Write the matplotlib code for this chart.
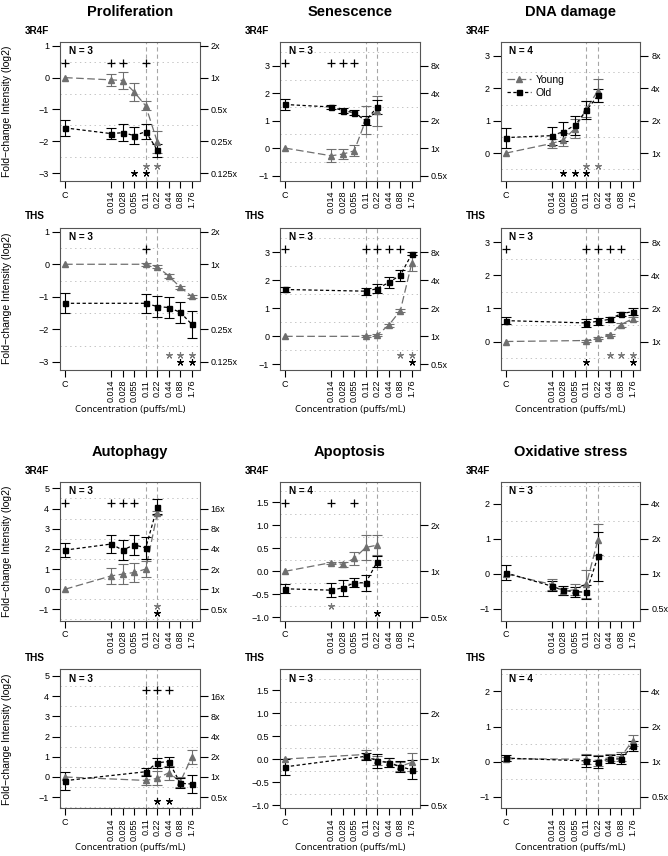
import numpy as np
import matplotlib
matplotlib.use('Agg')
import matplotlib.pyplot as plt
from matplotlib.transforms import blended_transform_factory

plt.rcParams['font.family'] = ['Liberation Sans', 'DejaVu Sans']
plt.rcParams['lines.scale_dashes'] = False

# concentrations (puffs/mL)
conc_all = ['C', '0.014', '0.028', '0.055', '0.11', '0.22', '0.44', '0.88', '1.76']
conc_3r4f = ['C', '0.014', '0.028', '0.055', '0.11', '0.22']
conc_ths = ['C', '0.11', '0.22', '0.44', '0.88', '1.76']

# ---- Proliferation ----
prolif_3r4f_young = [0, -0.07, -0.09, -0.45, -0.89, -2.02]
prolif_3r4f_young_err = [0, 0.2, 0.26, 0.28, 0.14, 0.35]
prolif_3r4f_old = [-1.58, -1.76, -1.73, -1.82, -1.70, -2.28]
prolif_3r4f_old_err = [0.24, 0.18, 0.26, 0.28, 0.23, 0.2]
prolif_3r4f_plus = ['C', '0.014', '0.028', '0.11']
prolif_3r4f_star_young = ['0.11', '0.22']
prolif_3r4f_star_old = ['0.055', '0.11']

prolif_ths_young = [0, 0, -0.08, -0.36, -0.71, -0.99]
prolif_ths_young_err = [0, 0.05, 0.05, 0.06, 0.04, 0.04]
prolif_ths_old = [-1.2, -1.2, -1.3, -1.33, -1.48, -1.85]
prolif_ths_old_err = [0.31, 0.3, 0.33, 0.33, 0.31, 0.42]
prolif_ths_plus = ['0.11']
prolif_ths_star_young = ['0.44', '0.88', '1.76']
prolif_ths_star_old = ['0.88', '1.76']

# ---- Senescence ----
senes_3r4f_young = [0, -0.28, -0.22, -0.1, 1.02, 1.35]
senes_3r4f_young_err = [0, 0.24, 0.18, 0.2, 0.5, 0.55]
senes_3r4f_old = [1.59, 1.5, 1.37, 1.29, 1.0, 1.5]
senes_3r4f_old_err = [0.2, 0.06, 0.1, 0.1, 0.17, 0.25]
senes_3r4f_plus = ['C', '0.014', '0.028', '0.055']
senes_3r4f_star_young = []
senes_3r4f_star_old = []

senes_ths_young = [0, 0, 0.05, 0.4, 0.92, 2.62]
senes_ths_young_err = [0, 0.04, 0.05, 0.05, 0.05, 0.28]
senes_ths_old = [1.67, 1.61, 1.7, 1.92, 2.18, 2.94]
senes_ths_old_err = [0.08, 0.12, 0.15, 0.2, 0.2, 0.05]
senes_ths_plus = ['C', '0.11', '0.22', '0.44', '0.88']
senes_ths_star_young = ['0.88', '1.76']
senes_ths_star_old = ['1.76']

# ---- DNA damage ----
dna_3r4f_young = [0, 0.3, 0.41, 0.76, 1.37, 1.93]
dna_3r4f_young_err = [0, 0.15, 0.2, 0.3, 0.25, 0.35]
dna_3r4f_old = [0.48, 0.54, 0.66, 0.86, 1.32, 1.78]
dna_3r4f_old_err = [0.31, 0.28, 0.3, 0.3, 0.28, 0.2]
dna_3r4f_plus = []
dna_3r4f_star_young = ['0.11', '0.22']
dna_3r4f_star_old = ['0.028', '0.055', '0.11']

dna_ths_young = [0, 0.03, 0.1, 0.2, 0.51, 0.69]
dna_ths_young_err = [0, 0.03, 0.03, 0.04, 0.06, 0.06]
dna_ths_old = [0.63, 0.56, 0.61, 0.67, 0.84, 0.9]
dna_ths_old_err = [0.1, 0.12, 0.1, 0.08, 0.06, 0.1]
dna_ths_plus = ['C', '0.11', '0.22', '0.44', '0.88']
dna_ths_star_young = ['0.44', '0.88', '1.76']
dna_ths_star_old = ['0.11', '1.76']

# ---- Autophagy ----
auto_3r4f_young = [0, 0.66, 0.75, 0.83, 1.0, 3.76]
auto_3r4f_young_err = [0, 0.4, 0.5, 0.45, 0.4, 0.1]
auto_3r4f_old = [1.94, 2.24, 1.94, 2.2, 2.05, 4.09]
auto_3r4f_old_err = [0.33, 0.45, 0.5, 0.5, 0.55, 0.38]
auto_3r4f_plus = ['C', '0.014', '0.028', '0.055']
auto_3r4f_star_young = ['0.22']
auto_3r4f_star_old = ['0.22']

auto_ths_young = [0, -0.17, -0.07, 0.21, -0.23, 1.0]
auto_ths_young_err = [0, 0.25, 0.35, 0.35, 0.25, 0.35]
auto_ths_old = [-0.18, 0.26, 0.71, 0.76, -0.31, -0.35]
auto_ths_old_err = [0.45, 0.2, 0.25, 0.25, 0.25, 0.45]
auto_ths_plus = ['0.11', '0.22', '0.44']
auto_ths_star_young = []
auto_ths_star_old = ['0.22', '0.44']

# ---- Apoptosis ----
apop_3r4f_young = [0, 0.19, 0.15, 0.28, 0.52, 0.57]
apop_3r4f_young_err = [0, 0.02, 0.05, 0.15, 0.28, 0.22]
apop_3r4f_old = [-0.38, -0.41, -0.36, -0.25, -0.25, 0.21]
apop_3r4f_old_err = [0.1, 0.15, 0.18, 0.1, 0.18, 0.12]
apop_3r4f_plus = ['C', '0.014', '0.055']
apop_3r4f_star_young = ['0.014']
apop_3r4f_star_old = ['0.22']

apop_ths_young = [0, 0.1, -0.03, -0.07, -0.16, -0.07]
apop_ths_young_err = [0, 0.1, 0.1, 0.1, 0.1, 0.2]
apop_ths_old = [-0.17, 0.06, -0.04, -0.08, -0.17, -0.23]
apop_ths_old_err = [0.18, 0.08, 0.15, 0.1, 0.12, 0.2]
apop_ths_plus = []
apop_ths_star_young = []
apop_ths_star_old = []

# ---- Oxidative stress ----
oxid_3r4f_young = [0, -0.3, -0.5, -0.45, -0.28, 0.98]
oxid_3r4f_young_err = [0, 0.15, 0.1, 0.15, 0.4, 0.45]
oxid_3r4f_old = [0.03, -0.35, -0.47, -0.51, -0.52, 0.5]
oxid_3r4f_old_err = [0.21, 0.15, 0.12, 0.15, 0.2, 0.7]
oxid_3r4f_plus = []
oxid_3r4f_star_young = []
oxid_3r4f_star_old = []

oxid_ths_young = [0.08, 0.07, 0.03, 0.12, 0.14, 0.6]
oxid_ths_young_err = [0.05, 0.15, 0.15, 0.1, 0.12, 0.15]
oxid_ths_old = [0.1, 0.02, 0.0, 0.07, 0.08, 0.45]
oxid_ths_old_err = [0.08, 0.17, 0.17, 0.12, 0.15, 0.15]
oxid_ths_plus = []
oxid_ths_star_young = []
oxid_ths_star_old = []

titles = ['Proliferation', 'Senescence', 'DNA damage', 'Autophagy', 'Apoptosis', 'Oxidative stress']
n_3r4f = [3, 3, 4, 3, 4, 3]
n_ths = [3, 3, 3, 3, 3, 4]

# x positions: C apart from the doses
xpos = {'C': 1}
for i, c in enumerate(conc_all[1:]):
    xpos[c] = 5 + i

YOUNG_COL = '#6f6f6f'
OLD_COL = 'black'
W, H = 668.0, 856.0

# axes boxes in pixels
col_left = [60.3, 280.3, 501.0]
box_w = 139.2
row_top = [41.7, 227.5, 481.7, 669.3]
row_bot = [181.0, 370.0, 620.5, 808.3]

# y range / ticks per endpoint
ylims = {'Proliferation': (-3.25, 1.13), 'Senescence': (-1.2, 3.88), 'DNA damage': (-0.86, 3.44),
         'Autophagy': (-1.55, 5.33), 'Apoptosis': (-1.07, 1.95), 'Oxidative stress': (-1.33, 2.63)}
lticks = {'Proliferation': [-3, -2, -1, 0, 1], 'Senescence': [-1, 0, 1, 2, 3], 'DNA damage': [0, 1, 2, 3],
          'Autophagy': [-1, 0, 1, 2, 3, 4, 5], 'Apoptosis': [-1.0, -0.5, 0.0, 0.5, 1.0, 1.5],
          'Oxidative stress': [-1, 0, 1, 2]}
rticks = {'Proliferation': [-3, -2, -1, 0, 1], 'Senescence': [-1, 0, 1, 2, 3], 'DNA damage': [0, 1, 2, 3],
          'Autophagy': [-1, 0, 1, 2, 3, 4], 'Apoptosis': [-1, 0, 1], 'Oxidative stress': [-1, 0, 1, 2]}

panels = [
    ('Proliferation', 0, 0, conc_3r4f, prolif_3r4f_young, prolif_3r4f_young_err, prolif_3r4f_old, prolif_3r4f_old_err,
     prolif_3r4f_plus, prolif_3r4f_star_young, prolif_3r4f_star_old, '3R4F', n_3r4f[0]),
    ('Senescence', 0, 1, conc_3r4f, senes_3r4f_young, senes_3r4f_young_err, senes_3r4f_old, senes_3r4f_old_err,
     senes_3r4f_plus, senes_3r4f_star_young, senes_3r4f_star_old, '3R4F', n_3r4f[1]),
    ('DNA damage', 0, 2, conc_3r4f, dna_3r4f_young, dna_3r4f_young_err, dna_3r4f_old, dna_3r4f_old_err,
     dna_3r4f_plus, dna_3r4f_star_young, dna_3r4f_star_old, '3R4F', n_3r4f[2]),
    ('Proliferation', 1, 0, conc_ths, prolif_ths_young, prolif_ths_young_err, prolif_ths_old, prolif_ths_old_err,
     prolif_ths_plus, prolif_ths_star_young, prolif_ths_star_old, 'THS', n_ths[0]),
    ('Senescence', 1, 1, conc_ths, senes_ths_young, senes_ths_young_err, senes_ths_old, senes_ths_old_err,
     senes_ths_plus, senes_ths_star_young, senes_ths_star_old, 'THS', n_ths[1]),
    ('DNA damage', 1, 2, conc_ths, dna_ths_young, dna_ths_young_err, dna_ths_old, dna_ths_old_err,
     dna_ths_plus, dna_ths_star_young, dna_ths_star_old, 'THS', n_ths[2]),
    ('Autophagy', 2, 0, conc_3r4f, auto_3r4f_young, auto_3r4f_young_err, auto_3r4f_old, auto_3r4f_old_err,
     auto_3r4f_plus, auto_3r4f_star_young, auto_3r4f_star_old, '3R4F', n_3r4f[3]),
    ('Apoptosis', 2, 1, conc_3r4f, apop_3r4f_young, apop_3r4f_young_err, apop_3r4f_old, apop_3r4f_old_err,
     apop_3r4f_plus, apop_3r4f_star_young, apop_3r4f_star_old, '3R4F', n_3r4f[4]),
    ('Oxidative stress', 2, 2, conc_3r4f, oxid_3r4f_young, oxid_3r4f_young_err, oxid_3r4f_old, oxid_3r4f_old_err,
     oxid_3r4f_plus, oxid_3r4f_star_young, oxid_3r4f_star_old, '3R4F', n_3r4f[5]),
    ('Autophagy', 3, 0, conc_ths, auto_ths_young, auto_ths_young_err, auto_ths_old, auto_ths_old_err,
     auto_ths_plus, auto_ths_star_young, auto_ths_star_old, 'THS', n_ths[3]),
    ('Apoptosis', 3, 1, conc_ths, apop_ths_young, apop_ths_young_err, apop_ths_old, apop_ths_old_err,
     apop_ths_plus, apop_ths_star_young, apop_ths_star_old, 'THS', n_ths[4]),
    ('Oxidative stress', 3, 2, conc_ths, oxid_ths_young, oxid_ths_young_err, oxid_ths_old, oxid_ths_old_err,
     oxid_ths_plus, oxid_ths_star_young, oxid_ths_star_old, 'THS', n_ths[5]),
]


def fold_label(k):
    v = 2.0 ** k
    if v >= 1:
        return '%dx' % int(v)
    return ('%g' % v) + 'x'


def tick_text(v, step):
    s = ('%.1f' % v) if step < 1 else ('%d' % v)
    return s.replace('-', '\u2212')


def series(ax, xs, ys, es, col, marker, ms, dash):
    xs = np.array(xs, float)
    ys = np.array(ys, float)
    es = np.array(es, float)
    ax.plot(xs, ys, color=col, lw=0.9, ls=dash, zorder=3)
    m = es > 0
    ax.errorbar(xs[m], ys[m], yerr=es[m], fmt='none', ecolor=col, elinewidth=0.8,
                capsize=3.6, capthick=0.8, zorder=4)
    ax.plot(xs, ys, ls='none', marker=marker, ms=ms, color=col, mec=col, zorder=5)


fig = plt.figure(figsize=(W / 100, H / 100), dpi=100)

for (name, r, c, conc, yv, ye, ov, oe, plus, sy, so, label, n) in panels:
    l = col_left[c] / W
    b = 1 - row_bot[r] / H
    h = (row_bot[r] - row_top[r]) / H
    ax = fig.add_axes([l, b, box_w / W, h])
    lo, hi = ylims[name]
    ax.set_xlim(0.59, 12.66)
    ax.set_ylim(lo, hi)

    # dotted grid halfway between the ticks
    tk = lticks[name]
    step = tk[1] - tk[0]
    g = tk[0] - step / 2
    while g < hi:
        if g > lo:
            ax.axhline(g, color='#c4c4c4', lw=0.7, ls=(0, (1, 2.5)), zorder=0)
        g += step
    for cc in ['0.11', '0.22']:
        ax.axvline(xpos[cc], color='#a6a6a6', lw=0.8, ls=(0, (3, 2.2)), zorder=1)

    xs = [xpos[k] for k in conc]
    series(ax, xs, yv, ye, YOUNG_COL, '^', 4.6, (0, (5.5, 2.5)))
    series(ax, xs, ov, oe, OLD_COL, 's', 3.6, (0, (2.4, 1.8)))

    tr = blended_transform_factory(ax.transData, ax.transAxes)
    if plus:
        ax.plot([xpos[k] for k in plus], [0.85] * len(plus), ls='none', marker='+', ms=5.5,
                mew=0.9, color='black', transform=tr, zorder=6)
    if sy:
        ax.plot([xpos[k] for k in sy], [0.105] * len(sy), ls='none', marker=(5, 2, 0), ms=5,
                mew=0.8, color='#7a7a7a', transform=tr, zorder=6)
    if so:
        ax.plot([xpos[k] for k in so], [0.055] * len(so), ls='none', marker=(5, 2, 0), ms=5,
                mew=0.8, color='black', transform=tr, zorder=6)

    # axes styling, R look
    for sp in ax.spines.values():
        sp.set_color('#555555')
        sp.set_linewidth(0.8)
    ax.set_yticks(tk)
    ax.set_yticklabels([tick_text(v, step) for v in tk])
    ax.set_xticks([xpos[k] for k in conc_all])
    ax.set_xticklabels(conc_all)
    for t in ax.get_xticklabels():
        if t.get_text() != 'C':
            t.set_rotation(90)
    ax.tick_params(axis='both', direction='out', length=6, width=0.8, labelsize=6.5, pad=2)
    ax.tick_params(axis='x', length=5)

    ax2 = ax.twinx()
    ax2.set_ylim(lo, hi)
    ax2.set_yticks(rticks[name])
    ax2.set_yticklabels([fold_label(k) for k in rticks[name]])
    ax2.tick_params(axis='y', direction='out', length=6, width=0.8, labelsize=6.5, pad=2)
    for sp in ax2.spines.values():
        sp.set_visible(False)

    ax.text(0.06, 0.93, 'N = %d' % n, transform=ax.transAxes, fontsize=7.2,
            fontweight='bold', va='center', ha='left')
    ax.text(-0.254, 1.078, label, transform=ax.transAxes, fontsize=7.2,
            fontweight='bold', va='center', ha='left')

    if name == 'DNA damage' and label == '3R4F':
        ax.plot([], [], color=YOUNG_COL, lw=0.9, ls=(0, (5.5, 2.5)), marker='^', ms=4.6, label='Young')
        ax.plot([], [], color=OLD_COL, lw=0.9, ls=(0, (2.4, 1.8)), marker='s', ms=3.6, label='Old')
        ax.legend(loc='upper left', bbox_to_anchor=(0.04, 0.76), frameon=False, fontsize=7.5,
                  handlelength=2.3, handletextpad=0.5, borderpad=0, borderaxespad=0,
                  labelspacing=0.25, numpoints=1)

    if c == 0:
        yc = (row_top[r] + row_bot[r]) / 2
        fig.text(7 / W, 1 - yc / H, 'Fold\u2212change Intensity (log2)', rotation=90,
                 va='center', ha='center', fontsize=7.5)
    if r in (0, 2):
        fig.text((col_left[c] + box_w / 2) / W, 1 - (row_top[r] - 30) / H, titles[(r // 2) * 3 + c],
                 fontsize=10.5, fontweight='bold', ha='center', va='center')
    if r in (1, 3):
        fig.text((col_left[c] + box_w / 2) / W, 1 - (row_bot[r] + 39) / H, 'Concentration (puffs/mL)',
                 fontsize=6.8, ha='center', va='center', family=['Open Sans', 'DejaVu Sans'])

fig.savefig('out.png', dpi=100)
